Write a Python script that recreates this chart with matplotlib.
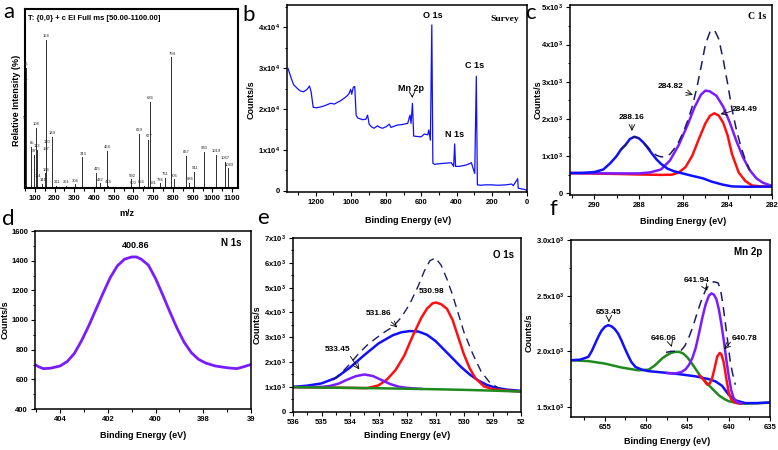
import matplotlib
matplotlib.use("Agg")
import matplotlib.pyplot as plt
from matplotlib.ticker import FuncFormatter, MultipleLocator

plt.rcParams["font.family"] = ["Liberation Sans", "DejaVu Sans"]
plt.rcParams["mathtext.fontset"] = "custom"
plt.rcParams["mathtext.rm"] = "Liberation Sans:bold"
plt.rcParams["mathtext.bf"] = "Liberation Sans:bold"
plt.rcParams["mathtext.default"] = "bf"

# ---------------- a: mass spectrum ----------------
ms_mz = [52, 56, 57, 85, 97, 108, 113, 114, 141, 156, 157, 158, 160, 189, 211, 261,
         304, 343, 415, 432, 468, 474, 592, 600, 629, 656, 677, 681, 686, 736, 761,
         794, 806, 867, 886, 911, 960, 1019, 1067, 1083]
ms_int = [37, 67, 57.5, 23, 18.4, 33.7, 21.2, 4.5, 2.2, 8.2, 19.4, 82.7, 23.5, 28.7, 1.3, 1.3,
          2, 17.1, 8.6, 2.6, 20.9, 1.3, 4.8, 0.8, 30.2, 1, 26.8, 0.6, 48.2, 2.6, 5.8,
          73, 4.8, 17.9, 2.9, 8.9, 20.3, 18.4, 14.5, 11]

# ---------------- b: survey ----------------
sv_be = [1358, 1340, 1326, 1300, 1288, 1270, 1250, 1236, 1227, 1215, 1195, 1173, 1150, 1116,
         1095, 1078, 1060, 1040, 1020, 1011, 1002, 996, 987, 979, 971, 962, 954, 935, 916,
         906, 897, 885, 869, 850, 835, 821, 800, 783, 773, 755, 735, 710, 690, 678, 665,
         659, 651, 644, 625, 602, 583, 564, 558, 549, 541, 535, 526, 510, 488, 460, 430,
         417, 411, 406, 390, 373, 350, 335, 316, 307, 297, 288, 282, 260, 240, 200, 164,
         120, 87, 78, 53, 50, 30, 15, 5]
sv_cps = [2.99, 2.75, 2.59, 2.48, 2.44, 2.42, 2.48, 2.56, 2.42, 2.04, 2.03, 2.05, 2.08, 2.14,
          2.12, 2.16, 2.20, 2.26, 2.33, 2.38, 2.48, 2.36, 2.53, 2.55, 1.85, 1.78, 1.77, 1.74, 1.75,
          1.85, 1.63, 1.57, 1.53, 1.59, 1.55, 1.53, 1.57, 1.63, 1.55, 1.58, 1.61, 1.62, 1.64, 1.65, 1.85,
          1.65, 2.14, 1.34, 1.33, 1.32, 1.39, 1.37, 1.49, 1.24, 4.05, 0.68, 0.65, 0.66, 0.67, 0.68, 0.69,
          0.60, 1.15, 0.60, 0.60, 0.61, 0.63, 0.65, 0.69, 0.56, 0.43, 2.80, 0.15, 0.14, 0.15, 0.15, 0.14,
          0.15, 0.17, 0.13, 0.30, 0.07, 0.05, 0.04, 0.02]

# ---------------- c: C 1s ----------------
c1_be = [291.1, 290.5, 290.0, 289.6, 289.3, 289.0, 288.8, 288.6, 288.4, 288.2, 288.0, 287.8, 287.6,
         287.4, 287.2, 287.0, 286.7, 286.4, 286.0, 285.6, 285.1, 284.7, 284.2, 283.8, 283.2, 282.5, 282.0]
c1_blue = [545, 550, 570, 640, 800, 1000, 1180, 1300, 1460, 1520, 1480, 1370, 1220,
           1060, 910, 790, 660, 590, 530, 470, 400, 310, 230, 185, 175, 178, 180]
c1_red_be = [291.1, 290.0, 289.0, 288.0, 287.0, 286.5, 286.2, 285.9, 285.6, 285.3, 285.0, 284.8, 284.6,
             284.4, 284.2, 284.0, 283.8, 283.5, 283.2, 282.9, 282.5, 282.0]
c1_red = [540, 530, 520, 505, 495, 500, 560, 700, 1000, 1450, 1880, 2080, 2150,
          2090, 1900, 1560, 1050, 560, 330, 210, 185, 180]
c1_pur_be = [291.1, 290.0, 289.0, 288.0, 287.5, 287.0, 286.6, 286.2, 285.8, 285.5, 285.2, 285.0, 284.8,
             284.5, 284.2, 283.9, 283.6, 283.3, 283.0, 282.7, 282.4, 282.0]
c1_pur = [545, 540, 535, 535, 560, 640, 880, 1300, 1840, 2300, 2650, 2760, 2740,
          2620, 2330, 1900, 1400, 960, 620, 400, 280, 200]
c1_env_be = [288.8, 288.6, 288.4, 288.2, 288.0, 287.8, 287.6, 287.4, 287.2, 287.0, 286.8, 286.6, 286.4,
             286.2, 286.0, 285.8, 285.6, 285.4, 285.2, 285.0, 284.8, 284.6, 284.4, 284.2, 284.0, 283.8,
             283.6, 283.4, 283.2, 283.0]
c1_env = [1180, 1300, 1460, 1520, 1480, 1380, 1250, 1110, 1020, 980, 985, 1050, 1200,
          1390, 1640, 1950, 2320, 2800, 3380, 4000, 4330, 4400, 4150, 3600, 2950, 2250,
          1700, 1250, 900, 620]

# ---------------- d: N 1s ----------------
n1_be = [405.05, 404.9, 404.7, 404.4, 404.0, 403.7, 403.4, 403.1, 402.8, 402.5, 402.2, 401.9, 401.6,
         401.3, 401.0, 400.8, 400.6, 400.3, 400.0, 399.7, 399.4, 399.1, 398.8, 398.5, 398.2, 397.9,
         397.5, 397.0, 396.6, 396.3, 396.0]
n1_cps = [700, 685, 672, 675, 690, 720, 775, 860, 960, 1070, 1180, 1285, 1365,
          1410, 1425, 1425, 1410, 1370, 1280, 1170, 1055, 945, 850, 780, 735, 710,
          690, 678, 672, 685, 700]

# ---------------- e: O 1s ----------------
o1_bg_be = [536, 535, 534, 533, 532, 531, 530, 529, 528]
o1_bg = [990, 975, 960, 945, 925, 905, 880, 850, 810]
o1_blue_be = [536, 535.5, 535, 534.5, 534, 533.5, 533, 532.5, 532.2, 531.9, 531.6, 531.3, 531,
              530.7, 530.4, 530.1, 529.8, 529.5, 529.2, 528.9, 528.5, 528]
o1_blue = [1000, 1050, 1140, 1360, 1780, 2280, 2750, 3080, 3200, 3250, 3230, 3100, 2850,
           2500, 2150, 1800, 1500, 1260, 1080, 970, 890, 840]
o1_red_be = [536, 534, 533.4, 533.0, 532.7, 532.4, 532.1, 531.8, 531.5, 531.3, 531.1, 530.98,
             530.8, 530.6, 530.4, 530.2, 530.0, 529.8, 529.6, 529.3, 529.0, 528.5, 528]
o1_red = [990, 960, 950, 1060, 1300, 1680, 2250, 3050, 3780, 4150, 4370, 4400,
          4330, 4150, 3700, 3000, 2300, 1750, 1350, 1020, 910, 850, 810]
o1_pur_be = [536, 535, 534.7, 534.4, 534.1, 533.8, 533.5, 533.2, 532.9, 532.6, 532.3, 532, 531.5]
o1_pur = [990, 1000, 1040, 1130, 1290, 1430, 1500, 1440, 1280, 1120, 1010, 960, 920]
o1_env_be = [534.6, 534.3, 534.0, 533.7, 533.4, 533.1, 532.8, 532.5, 532.2, 531.9, 531.6, 531.4,
             531.2, 531.0, 530.8, 530.6, 530.4, 530.2, 530.0, 529.7, 529.4, 529.1, 528.8]
o1_env = [1280, 1560, 1930, 2340, 2680, 2950, 3200, 3420, 3800, 4350, 5080, 5650,
          6080, 6200, 5900, 5350, 4700, 3950, 3200, 2350, 1620, 1180, 960]

# ---------------- f: Mn 2p ----------------
mn_blue_be = [659.1, 658, 657, 656.6, 656.2, 655.8, 655.4, 655.0, 654.6, 654.2, 653.8, 653.4, 653.0,
              652.6, 652.2, 651.8, 651.3, 650.5, 649.7, 648, 646, 644, 642.4, 641.6, 640.8, 640.0,
              639.2, 638, 636.5, 635]
mn_blue = [1920, 1925, 1950, 2000, 2065, 2130, 2185, 2220, 2235, 2225, 2200, 2160, 2100,
           2030, 1965, 1905, 1860, 1835, 1822, 1810, 1795, 1775, 1750, 1730, 1690, 1610,
           1560, 1535, 1535, 1540]
mn_green_be = [659.1, 657, 655, 653, 651, 649.7, 649, 648.5, 648, 647.5, 647, 646.5, 646, 645.5,
               645, 644.5, 644, 643.5, 643, 642.4, 641.8, 641.2, 640.5, 640, 639.2, 638.3, 637, 635]
mn_green = [1920, 1912, 1890, 1855, 1830, 1835, 1870, 1905, 1940, 1965, 1985, 1995, 1995, 1980,
            1945, 1895, 1840, 1785, 1745, 1695, 1650, 1605, 1570, 1552, 1538, 1530, 1532, 1540]
mn_red_be = [643.5, 643.0, 642.6, 642.3, 642.0, 641.7, 641.4, 641.1, 640.9, 640.6, 640.3, 640.0,
             639.7, 639.4, 639.0, 638.5]
mn_red = [1780, 1740, 1700, 1710, 1760, 1850, 1950, 1985, 1975, 1900, 1760, 1630,
          1570, 1545, 1535, 1530]
mn_pur_be = [647.5, 646.5, 645.7, 645.2, 644.8, 644.4, 644.0, 643.6, 643.2, 642.8, 642.4, 642.1,
             641.8, 641.5, 641.2, 640.9, 640.6, 640.3, 640.0, 639.7, 639.4, 639.0, 638.5]
mn_pur = [1805, 1800, 1815, 1840, 1880, 1940, 2030, 2160, 2300, 2420, 2500, 2520,
          2510, 2470, 2380, 2250, 2100, 1930, 1780, 1650, 1580, 1545, 1532]
mn_env_be = [647.6, 647.0, 646.4, 645.8, 645.3, 644.8, 644.3, 643.8, 643.3, 642.8, 642.3, 641.8,
             641.3, 641.0, 640.7, 640.4, 640.1, 639.8, 639.5, 639.2]
mn_env = [1990, 2000, 2000, 2005, 2050, 2130, 2230, 2350, 2460, 2550, 2605, 2625,
          2615, 2560, 2420, 2250, 2075, 1900, 1790, 1700]

W, H = 778, 450
BLUE = "#1010ff"
RED = "#ff1010"
PURPLE = "#7a1cff"
GREEN = "#1e8a1e"
NAVY = "#1c1c66"
TICK_FS = 5.5
LAB_FS = 6.5

fig = plt.figure(figsize=(W / 100, H / 100), dpi=100)


def px_axes(left, top, right, bottom):
    return fig.add_axes([left / W, 1 - bottom / H, (right - left) / W, (bottom - top) / H])


def sci(exp, dec=0):
    def f(v, pos):
        if v == 0:
            return "0"
        return f"{v / 10 ** exp:.{dec}f}x10$^{{{exp}}}$"
    return FuncFormatter(f)


def style(ax, box, xlabel, ylabel, xlab_px, ylab_px):
    # label positions are given as the text centres in pixels
    left, top, right, bottom = box
    for s in ax.spines.values():
        s.set_linewidth(1.1)
    ax.tick_params(which="both", direction="out", labelsize=TICK_FS, width=0.8, pad=2)
    ax.tick_params(which="major", length=3)
    ax.tick_params(which="minor", length=1.8)
    ax.set_xlabel(xlabel, fontsize=LAB_FS, fontweight="bold", va="center")
    ax.set_ylabel(ylabel, fontsize=LAB_FS, fontweight="bold", va="center")
    ax.xaxis.set_label_coords((xlab_px[0] - left) / (right - left), (bottom - xlab_px[1]) / (bottom - top))
    ax.yaxis.set_label_coords((ylab_px[0] - left) / (right - left), (bottom - ylab_px[1]) / (bottom - top))


def bold_ticks(ax):
    for t in ax.get_xticklabels() + ax.get_yticklabels():
        t.set_fontweight("bold")


# ---- a ----
box = (25, 9, 238, 188)
ax = px_axes(*box)
ax.bar(ms_mz, ms_int, width=5, color="#333333")
for m, h in zip(ms_mz, ms_int):
    ha = "center"
    if m == 656:
        ha = "right"
    elif m == 681:
        ha = "left"
    ax.text(m, h + 1, str(m), fontsize=3, ha=ha, va="bottom", color="#222222")
ax.set_xlim(50, 1130)
ax.set_ylim(0, 100)
ax.set_yticks([])
ax.xaxis.set_major_locator(MultipleLocator(100))
ax.xaxis.set_minor_locator(MultipleLocator(50))
style(ax, box, "m/z", "Relative Intensity (%)", (127, 213), (17, 100))
for s in ax.spines.values():
    s.set_linewidth(1.5)
ax.text(0.015, 0.965, "T: {0,0} + c EI Full ms [50.00-1100.00]", transform=ax.transAxes,
        fontsize=5.5, fontweight="bold", ha="left", va="top")
bold_ticks(ax)

# ---- b ----
box = (287, 5, 527, 192)
ax = px_axes(*box)
ax.plot(sv_be, [v * 1e4 for v in sv_cps], color=BLUE, lw=0.9)
ax.set_xlim(1364, 0)
ax.set_ylim(-244, 45366)
ax.xaxis.set_major_locator(MultipleLocator(200))
ax.xaxis.set_minor_locator(MultipleLocator(100))
ax.yaxis.set_major_locator(MultipleLocator(10000))
ax.yaxis.set_minor_locator(MultipleLocator(5000))
ax.yaxis.set_major_formatter(sci(4))
style(ax, box, "Binding Energy (eV)", "Counts/s", (408, 220), (251, 100))
ax.text(537, 42900, "O 1s", fontsize=6.5, fontweight="bold", ha="center", va="center")
ax.text(297, 30500, "C 1s", fontsize=6.5, fontweight="bold", ha="center", va="center")
ax.text(411, 13700, "N 1s", fontsize=6.5, fontweight="bold", ha="center", va="center")
ax.text(660, 25100, "Mn 2p", fontsize=6.5, fontweight="bold", ha="center", va="center")
ax.annotate("", xy=(651, 22000), xytext=(653, 24000),
            arrowprops=dict(arrowstyle="->", lw=0.6, color="black"))
ax.text(0.965, 0.925, "Survey", transform=ax.transAxes, fontsize=6.8, fontweight="bold",
        family="Liberation Serif", ha="right", va="center")
bold_ticks(ax)

# ---- c ----
box = (570, 5, 772, 195)
ax = px_axes(*box)
ax.plot(c1_red_be, c1_red, color=RED, lw=1.8)
ax.plot(c1_pur_be, c1_pur, color=PURPLE, lw=1.8)
ax.plot(c1_be, c1_blue, color=BLUE, lw=1.8)
ax.plot(c1_env_be, c1_env, color=NAVY, lw=1.1, ls=(0, (6, 4)))
ax.set_xlim(291.1, 282)
ax.set_ylim(-46, 5062)
ax.xaxis.set_major_locator(MultipleLocator(2))
ax.xaxis.set_minor_locator(MultipleLocator(1))
ax.yaxis.set_major_locator(MultipleLocator(1000))
ax.yaxis.set_minor_locator(MultipleLocator(500))
ax.yaxis.set_major_formatter(sci(3))
style(ax, box, "Binding Energy (eV)", "Counts/s", (683, 221), (538, 100))
ax.text(288.31, 2050, "288.16", fontsize=6, fontweight="bold", ha="center", va="center")
ax.annotate("", xy=(288.31, 1600), xytext=(288.31, 1920),
            arrowprops=dict(arrowstyle="->", lw=0.6))
ax.text(286.58, 2870, "284.82", fontsize=6, fontweight="bold", ha="center", va="center")
ax.annotate("", xy=(285.45, 2620), xytext=(286.0, 2740),
            arrowprops=dict(arrowstyle="->", lw=0.6))
ax.text(283.24, 2245, "284.49", fontsize=6, fontweight="bold", ha="center", va="center")
ax.annotate("", xy=(284.44, 2110), xytext=(283.72, 2220),
            arrowprops=dict(arrowstyle="->", lw=0.6))
ax.text(0.97, 0.94, "C 1s", transform=ax.transAxes, fontsize=7, fontweight="bold",
        family="Liberation Serif", ha="right", va="center")
bold_ticks(ax)

# ---- d ----
box = (35, 231, 251, 409)
ax = px_axes(*box)
ax.plot(n1_be, n1_cps, color=PURPLE, lw=2.0)
ax.set_xlim(405.05, 396)
ax.set_ylim(400, 1600)
ax.set_xticks([404, 402, 400, 398, 396])
ax.set_xticklabels(["404", "402", "400", "398", "39"])
ax.xaxis.set_minor_locator(MultipleLocator(1))
ax.yaxis.set_major_locator(MultipleLocator(200))
ax.yaxis.set_minor_locator(MultipleLocator(100))
style(ax, box, "Binding Energy (eV)", "Counts/s", (143, 436), (5, 320))
ax.text(400.85, 1500, "400.86", fontsize=6.5, fontweight="bold", ha="center", va="center")
ax.text(0.955, 0.93, "N 1s", transform=ax.transAxes, fontsize=7, fontweight="bold",
        ha="right", va="center")
bold_ticks(ax)

# ---- e ----
box = (293, 238, 521, 412)
ax = px_axes(*box)
ax.plot(o1_blue_be, o1_blue, color=BLUE, lw=1.8)
ax.plot(o1_red_be, o1_red, color=RED, lw=1.8)
ax.plot(o1_pur_be, o1_pur, color=PURPLE, lw=1.8)
ax.plot(o1_bg_be, o1_bg, color=GREEN, lw=1.8)
ax.plot(o1_env_be, o1_env, color=NAVY, lw=1.0, ls=(0, (6, 4)))
ax.set_xlim(536, 528)
ax.set_ylim(-12, 7000)
ax.set_xticks([536, 535, 534, 533, 532, 531, 530, 529, 528])
ax.set_xticklabels(["536", "535", "534", "533", "532", "531", "530", "529", "52"])
ax.xaxis.set_minor_locator(MultipleLocator(0.5))
ax.yaxis.set_major_locator(MultipleLocator(1000))
ax.yaxis.set_minor_locator(MultipleLocator(500))
ax.yaxis.set_major_formatter(sci(3))
style(ax, box, "Binding Energy (eV)", "Counts/s", (407, 436), (257, 325))
ax.text(531.15, 4850, "530.98", fontsize=6, fontweight="bold", ha="center", va="center")
ax.text(532.98, 3950, "531.86", fontsize=6, fontweight="bold", ha="center", va="center")
ax.annotate("", xy=(532.27, 3320), xytext=(532.62, 3690),
            arrowprops=dict(arrowstyle="->", lw=0.6))
ax.text(534.45, 2520, "533.45", fontsize=6, fontweight="bold", ha="center", va="center")
ax.annotate("", xy=(533.62, 1610), xytext=(534.04, 2320),
            arrowprops=dict(arrowstyle="->", lw=0.6))
ax.text(0.97, 0.9, "O 1s", transform=ax.transAxes, fontsize=7, fontweight="bold",
        ha="right", va="center")
bold_ticks(ax)

# ---- f ----
box = (571, 240, 770, 417)
ax = px_axes(*box)
ax.plot(mn_green_be, mn_green, color=GREEN, lw=1.8)
ax.plot(mn_blue_be, mn_blue, color=BLUE, lw=1.8)
ax.plot(mn_red_be, mn_red, color=RED, lw=1.8)
ax.plot(mn_pur_be, mn_pur, color=PURPLE, lw=1.8)
ax.plot(mn_env_be, mn_env, color=NAVY, lw=1.1, ls=(0, (6, 4)))
ax.set_xlim(659.1, 635)
ax.set_ylim(1410, 3000)
ax.xaxis.set_major_locator(MultipleLocator(5))
ax.xaxis.set_minor_locator(MultipleLocator(2.5))
ax.yaxis.set_major_locator(MultipleLocator(500))
ax.yaxis.set_minor_locator(MultipleLocator(250))
ax.yaxis.set_major_formatter(sci(3, 1))
style(ax, box, "Binding Energy (eV)", "Counts/s", (667, 442), (529, 333))
ax.text(654.51, 2350, "653.45", fontsize=6, fontweight="bold", ha="center", va="center")
ax.annotate("", xy=(654.51, 2240), xytext=(654.51, 2300),
            arrowprops=dict(arrowstyle="->", lw=0.6))
ax.text(647.89, 2115, "646.06", fontsize=6, fontweight="bold", ha="center", va="center")
ax.annotate("", xy=(646.79, 2015), xytext=(647.07, 2080),
            arrowprops=dict(arrowstyle="->", lw=0.6))
ax.text(643.82, 2640, "641.94", fontsize=6, fontweight="bold", ha="center", va="center")
ax.annotate("", xy=(642.4, 2525), xytext=(643.0, 2595),
            arrowprops=dict(arrowstyle="->", lw=0.6))
ax.text(638.13, 2115, "640.78", fontsize=6, fontweight="bold", ha="center", va="center")
ax.annotate("", xy=(640.77, 2000), xytext=(639.55, 2100),
            arrowprops=dict(arrowstyle="->", lw=0.6))
ax.text(0.96, 0.93, "Mn 2p", transform=ax.transAxes, fontsize=7, fontweight="bold",
        ha="right", va="center")
bold_ticks(ax)

# panel letters
for letter, x, y in [("a", 9, 12), ("b", 249, 15), ("c", 530, 13),
                     ("d", 8, 219), ("e", 263, 218), ("f", 553, 209)]:
    fig.text(x / W, 1 - y / H, letter, fontsize=16, family="Lato", ha="center", va="center")

fig.savefig("out.png", dpi=100)
